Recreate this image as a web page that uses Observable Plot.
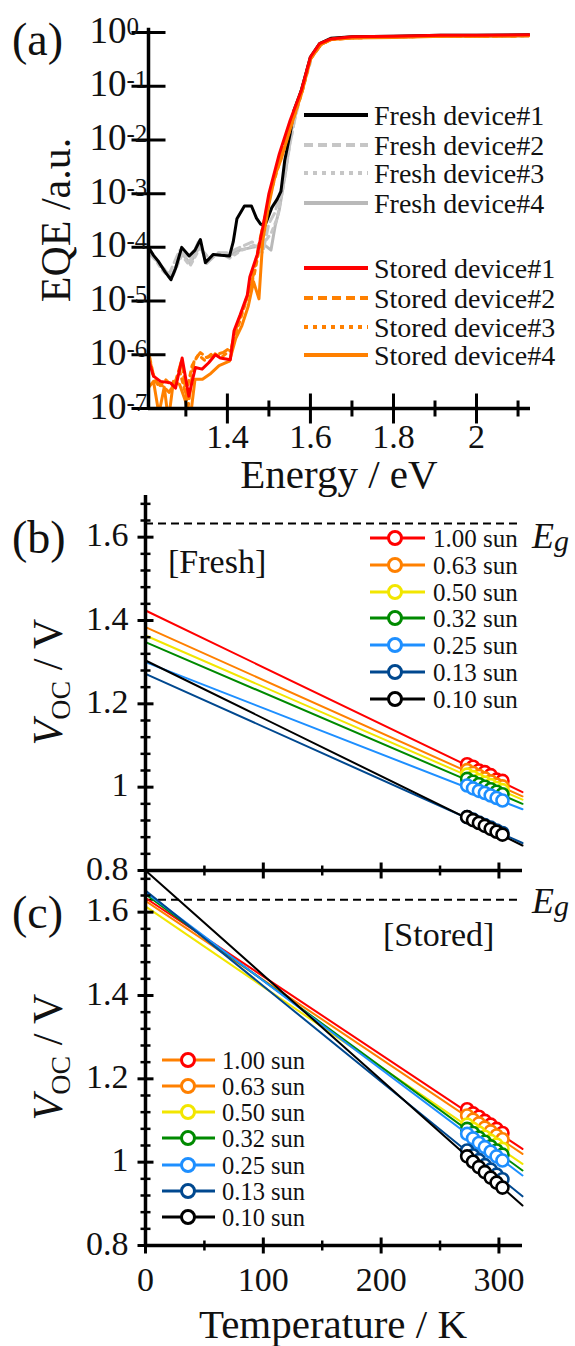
<!DOCTYPE html>
<html><head><meta charset="utf-8">
<script src="https://cdn.jsdelivr.net/npm/d3@7"></script>
<script src="https://cdn.jsdelivr.net/npm/@observablehq/plot@0.6"></script>
<style>
html,body{margin:0;padding:0;background:#fff;}
#wrap{position:relative;width:575px;height:1346px;overflow:hidden;background:#fff;}
#wrap svg{position:absolute;left:0;overflow:visible;}
#wrap svg, #wrap svg text, #wrap svg tspan{font-family:"Liberation Serif","DejaVu Serif","Times New Roman",Times,serif !important;}
</style></head>
<body><div id="wrap"></div>
<script>
// ================= DATA: panel (a) EQE spectra =================
const freshE1 = [1.21,1.222,1.233,1.25,1.264,1.275,1.29,1.308,1.322,1.335,1.347,1.366,1.385,1.405,1.414,1.423,1.441,1.458,1.47,1.48,1.49,1.507,1.52,1.529,1.538,1.551,1.56,1.578,1.60,1.622,1.649,1.70,1.80,1.914,2.0,2.126];
const freshQ1 = [1.0e-4,7.1e-5,5.6e-5,3.5e-5,2.5e-5,4.0e-5,1.0e-4,6.9e-5,8.9e-5,1.4e-4,5.2e-5,7.4e-5,7.1e-5,6.9e-5,1.26e-4,3.4e-4,5.9e-4,5.9e-4,3.5e-4,2.7e-4,2.5e-4,5.5e-4,7.9e-4,1.1e-3,4.1e-3,1.3e-2,3.5e-2,8.3e-2,0.35,0.62,0.78,0.83,0.85,0.89,0.89,0.91];
const freshE2 = [1.21,1.235,1.26,1.285,1.31,1.33,1.35,1.375,1.40,1.43,1.46,1.485,1.50,1.515,1.53,1.545,1.56,1.58,1.60,1.625,1.65,1.70,1.80,1.92,2.0,2.126];
const freshQ2 = [7.9e-5,5.0e-5,3.2e-5,8.9e-5,5.6e-5,1.26e-4,5.6e-5,7.9e-5,7.9e-5,1.0e-4,1.26e-4,7.9e-5,2.8e-4,4.5e-4,1.26e-3,5.0e-3,2.0e-2,8.9e-2,0.34,0.6,0.76,0.81,0.83,0.85,0.85,0.87];
const freshE3 = [1.21,1.24,1.265,1.29,1.31,1.335,1.355,1.38,1.405,1.435,1.465,1.49,1.505,1.52,1.535,1.55,1.565,1.585,1.605,1.625,1.65,1.70,1.80,1.92,2.0,2.126];
const freshQ3 = [1.0e-4,4.0e-5,2.5e-5,7.1e-5,4.5e-5,1.0e-4,6.3e-5,7.9e-5,6.3e-5,8.9e-5,1.1e-4,1.26e-4,1.8e-4,3.5e-4,1.4e-3,7.9e-3,3.2e-2,0.11,0.38,0.6,0.76,0.81,0.83,0.85,0.85,0.87];
const freshE4 = [1.21,1.24,1.265,1.29,1.31,1.335,1.35,1.37,1.405,1.43,1.46,1.49,1.505,1.515,1.525,1.54,1.555,1.575,1.60,1.625,1.65,1.70,1.80,1.92,2.0,2.126];
const freshQ4 = [8.9e-5,4.5e-5,2.8e-5,7.9e-5,5.0e-5,1.1e-4,5.0e-5,7.1e-5,7.1e-5,8.9e-5,1.0e-4,1.1e-4,8.9e-5,2.5e-4,5.0e-4,2.5e-3,1.6e-2,7.1e-2,0.32,0.6,0.76,0.81,0.83,0.85,0.85,0.87];
const storedE1 = [1.211,1.222,1.239,1.263,1.275,1.291,1.307,1.323,1.339,1.355,1.371,1.383,1.407,1.416,1.431,1.448,1.454,1.472,1.485,1.50,1.525,1.551,1.578,1.60,1.622,1.649,1.70,1.80,1.914,2.0,2.126];
const storedQ1 = [7.6e-7,4.0e-7,3.2e-7,3.0e-7,2.4e-7,8.7e-7,1.7e-7,5.8e-7,5.4e-7,7.1e-7,1.0e-6,8.7e-7,8.1e-7,2.8e-6,5.6e-6,1.3e-5,2.8e-5,7.4e-5,2.3e-4,1.0e-3,5.5e-3,2.3e-2,8.3e-2,0.35,0.62,0.76,0.83,0.85,0.89,0.89,0.91];
const storedE2 = [1.211,1.225,1.24,1.26,1.275,1.29,1.305,1.32,1.335,1.35,1.37,1.39,1.41,1.425,1.44,1.46,1.48,1.50,1.525,1.55,1.578,1.60,1.625,1.65,1.70,1.80,1.92,2.0,2.126];
const storedQ2 = [1.05e-6,3.2e-7,2.8e-7,2.0e-7,3.2e-7,7.9e-7,1.0e-7,7.9e-7,1.1e-6,8.9e-7,1.0e-6,1.1e-6,1.4e-6,4.0e-6,7.9e-6,2.5e-5,1.6e-4,7.9e-4,4.5e-3,1.8e-2,7.6e-2,0.32,0.59,0.74,0.79,0.83,0.85,0.85,0.87];
const storedE3 = [1.211,1.22,1.235,1.25,1.27,1.285,1.30,1.315,1.33,1.345,1.365,1.385,1.41,1.425,1.445,1.465,1.485,1.505,1.53,1.555,1.58,1.60,1.625,1.65,1.70,1.80,1.92,2.0,2.126];
const storedQ3 = [1.0e-6,4.5e-7,2.5e-7,3.5e-7,2.5e-7,5.0e-7,1.8e-7,6.3e-7,1.0e-6,7.9e-7,1.1e-6,8.9e-7,1.26e-6,3.2e-6,1.0e-5,3.2e-5,2.0e-4,1.1e-3,5.0e-3,2.0e-2,7.9e-2,0.33,0.6,0.74,0.79,0.83,0.85,0.85,0.87];
const storedE4 = [1.211,1.222,1.235,1.248,1.258,1.270,1.285,1.300,1.310,1.322,1.340,1.360,1.380,1.405,1.420,1.435,1.450,1.463,1.476,1.485,1.500,1.515,1.530,1.555,1.580,1.600,1.625,1.650,1.700,1.800,1.920,2.000,2.126];
const storedQ4 = [2.5e-7,3.2e-7,8e-8,2.5e-7,6e-8,3.2e-7,2.8e-7,1.3e-7,6e-8,3.5e-7,3.5e-7,4.5e-7,6.3e-7,7.6e-7,2.0e-6,3.5e-6,7.9e-6,2.3e-5,1.1e-5,1.3e-4,6.3e-4,2.2e-3,4.5e-3,2.0e-2,7.9e-2,0.32,0.6,0.74,0.79,0.81,0.85,0.85,0.87];

const legendA = ["Fresh device#1","Fresh device#2","Fresh device#3","Fresh device#4","Stored device#1","Stored device#2","Stored device#3","Stored device#4"];
const xMajorA = [1.4,1.6,1.8,2.0];
const xMajorLabelsA = ["1.4","1.6","1.8","2"];
const xMinorA = [1.3,1.5,1.7,1.9,2.1];
const yTicksA = [1,1e-1,1e-2,1e-3,1e-4,1e-5,1e-6,1e-7];
const yExpA = ["0","-1","-2","-3","-4","-5","-6","-7"];

// ================= DATA: panels (b), (c) Voc vs T =================
const sunLabels = ["1.00 sun","0.63 sun","0.50 sun","0.32 sun","0.25 sun","0.13 sun","0.10 sun"];
const sunColors = ["#ff0000","#ff8000","#f2e600","#008a00","#1e8fff","#00488f","#000000"];
const tempK = [273,278,283,288,293,298,303];
const fitT = [0,320];
// Fresh
const fitStartB = [1.424,1.384,1.364,1.348,1.300,1.272,1.304];
const fitEndB   = [0.988,0.978,0.970,0.960,0.947,0.866,0.860];
const vocB = [
  [1.055,1.049,1.040,1.036,1.029,1.018,1.015],
  [1.041,1.034,1.027,1.021,1.014,1.006,1.002],
  [1.030,1.024,1.017,1.011,1.005,0.998,0.993],
  [1.020,1.013,1.007,1.001,0.995,0.989,0.983],
  [1.004,0.997,0.991,0.986,0.980,0.974,0.968],
  [0.928,0.922,0.915,0.909,0.903,0.896,0.890],
  [0.928,0.921,0.914,0.907,0.900,0.893,0.886]
];
// Stored
const fitStartC = [1.634,1.627,1.614,1.643,1.648,1.652,1.700];
const fitEndC   = [1.032,1.020,0.996,0.980,0.968,0.918,0.896];
const vocC = [
  [1.127,1.117,1.109,1.099,1.090,1.080,1.070],
  [1.112,1.102,1.093,1.083,1.074,1.064,1.055],
  [1.090,1.080,1.071,1.061,1.051,1.042,1.032],
  [1.080,1.070,1.059,1.049,1.038,1.028,1.018],
  [1.068,1.057,1.046,1.036,1.025,1.014,1.004],
  [1.028,1.016,1.005,0.993,0.982,0.970,0.959],
  [1.014,1.001,0.988,0.976,0.963,0.951,0.939]
];
const egValue = [1.633];
const egValueC = [1.630];
const yMajorV = [0.8,1.0,1.2,1.4,1.6];
const yMajorLabelsV = ["0.8","1","1.2","1.4","1.6"];
const yMinorV = [0.84,0.88,0.92,0.96,1.04,1.08,1.12,1.16,1.24,1.28,1.32,1.36,1.44,1.48,1.52,1.56,1.64,1.68];
const xMajorT = [0,100,200,300];
const xMajorLabelsT = ["0","100","200","300"];
const xMinorT = [50,150,250];

// ================= helpers =================
const serif = "Liberation Serif";
const vtick = len => ({draw(ctx){ctx.moveTo(0,-len);ctx.lineTo(0,len);}});
const htick = len => ({draw(ctx){ctx.moveTo(-len,0);ctx.lineTo(len,0);}});
const wrap = document.getElementById("wrap");
function place(svg, top){ svg.style.top = top + "px"; wrap.appendChild(svg); }
const pts = (X, Y) => X.map((x,i) => ({x, y: Y[i]}));

// ================= panel (a) =================
const aSeries = [
  {E: freshE4, Q: freshQ4, stroke: "#b9b9b9", dash: null},
  {E: freshE3, Q: freshQ3, stroke: "#c6c6c6", dash: "4,5"},
  {E: freshE2, Q: freshQ2, stroke: "#c6c6c6", dash: "9,5"},
  {E: freshE1, Q: freshQ1, stroke: "#000000", dash: null},
  {E: storedE4, Q: storedQ4, stroke: "#ff8000", dash: null},
  {E: storedE3, Q: storedQ3, stroke: "#ff8000", dash: "4,5"},
  {E: storedE2, Q: storedQ2, stroke: "#ff8000", dash: "9,5"},
  {E: storedE1, Q: storedQ1, stroke: "#ff0000", dash: null}
];
const xMinA = 1.21, xMaxA = 2.13, yMinA = 1e-7;
const pa = Plot.plot({
  width: 575, height: 500,
  marginLeft: 148, marginRight: 45, marginTop: 32, marginBottom: 92,
  style: {fontFamily: serif, background: "none", overflow: "visible"},
  x: {domain: [xMinA, xMaxA], axis: null},
  y: {type: "log", domain: [yMinA, 1], axis: null},
  marks: [
    ...aSeries.map(s => Plot.line(pts(s.E, s.Q), {x: "x", y: "y", stroke: s.stroke, strokeWidth: 3, strokeDasharray: s.dash, clip: true, strokeLinejoin: "round"})),
    Plot.ruleX([xMinA], {y1: yMinA, y2: 1.2, stroke: "black", strokeWidth: 3.5}),
    Plot.ruleY([yMinA], {x1: xMinA, x2: xMaxA, stroke: "black", strokeWidth: 3.5}),
    Plot.dot(yTicksA, {x: xMinA, y: d => d, symbol: htick(17), stroke: "black", strokeWidth: 3, fill: "none"}),
    Plot.dot(xMajorA, {x: d => d, y: yMinA, symbol: vtick(15), stroke: "black", strokeWidth: 3, fill: "none"}),
    Plot.dot(xMinorA, {x: d => d, y: yMinA, symbol: vtick(8), stroke: "black", strokeWidth: 3, fill: "none"}),
    Plot.text(xMajorA, {x: d => d, y: yMinA, text: (d,i) => xMajorLabelsA[i], dy: 39, lineAnchor: "bottom", fontSize: 34, fontFamily: serif, fill: "#111"}),
    Plot.text(yTicksA, {x: xMinA, y: d => d, text: () => "10", dx: -22, dy: 10, textAnchor: "end", lineAnchor: "bottom", fontSize: 37, fontFamily: serif, fill: "#111"}),
    Plot.text(yTicksA, {x: xMinA, y: d => d, text: (d,i) => yExpA[i], dx: -22, dy: 2, textAnchor: "start", lineAnchor: "bottom", fontSize: 25, fontFamily: serif, fill: "#111"})
  ]
});
place(pa, 0);

// ================= panels (b) and (c) =================
function vocPanel(fitStart, fitEnd, voc, eg, height, mTop, mBottom, showX) {
  const marks = [];
  marks.push(Plot.ruleY(eg, {x1: 0, x2: 320, stroke: "black", strokeWidth: 2, strokeDasharray: "8,5"}));
  sunLabels.forEach((lab, i) => {
    marks.push(Plot.line(pts(fitT, [fitStart[i], fitEnd[i]]), {x: "x", y: "y", stroke: sunColors[i], strokeWidth: 2}));
    marks.push(Plot.dot(pts(tempK, voc[i]), {x: "x", y: "y", r: 6, stroke: sunColors[i], strokeWidth: 2.6, fill: "white"}));
  });
  marks.push(
    Plot.ruleX([0], {y1: 0.8, y2: 1.7, stroke: "black", strokeWidth: 3.5}),
    Plot.ruleY([0.8], {x1: 0, x2: 320, stroke: "black", strokeWidth: 3.5}),
    Plot.dot(yMajorV, {x: 0, y: d => d, symbol: htick(8), stroke: "black", strokeWidth: 3, fill: "none"}),
    Plot.dot(yMinorV, {x: 0, y: d => d, symbol: htick(5), stroke: "black", strokeWidth: 2.5, fill: "none"}),
    Plot.dot(xMajorT, {x: d => d, y: 0.8, symbol: vtick(8), stroke: "black", strokeWidth: 3, fill: "none"}),
    Plot.dot(xMinorT, {x: d => d, y: 0.8, symbol: vtick(5), stroke: "black", strokeWidth: 2.5, fill: "none"}),
    Plot.text(yMajorV, {x: 0, y: d => d, text: (d,i) => yMajorLabelsV[i], dx: -17, dy: 9, textAnchor: "end", lineAnchor: "bottom", fontSize: 34, fontFamily: serif, fill: "#111"})
  );
  if (showX) marks.push(Plot.text(xMajorT, {x: d => d, y: 0.8, text: (d,i) => xMajorLabelsT[i], dy: 45, lineAnchor: "bottom", fontSize: 34, fontFamily: serif, fill: "#111"}));
  return Plot.plot({
    width: 575, height,
    marginLeft: 145, marginRight: 53, marginTop: mTop, marginBottom: mBottom,
    style: {fontFamily: serif, background: "none", overflow: "visible"},
    x: {domain: [0, 320], axis: null},
    y: {domain: [0.8, 1.7], axis: null},
    marks
  });
}
place(vocPanel(fitStartB, fitEndB, vocB, egValue, 420, 35, 10, false), 460);
place(vocPanel(fitStartC, fitEndC, vocC, egValueC, 506, 30, 101, true), 840);

// ================= annotations overlay =================
const ov = d3.select(wrap).append("svg").attr("width", 575).attr("height", 1346)
  .style("top", "0px").attr("font-family", serif);
function txt(x, y, s, size, anchor = "start") {
  return ov.append("text").attr("x", x).attr("y", y).attr("font-size", size)
    .attr("font-family", serif).attr("text-anchor", anchor).attr("fill", "#111").text(s);
}
function rowsText(x, ys, labels, size) {
  const t = ov.append("text").attr("font-size", size).attr("font-family", serif).attr("fill", "#111");
  labels.forEach((lab, i) => t.append("tspan").attr("x", x).attr("y", ys[i]).text(lab));
  return t;
}
txt(12, 55, "(a)", 46);
txt(12, 553, "(b)", 46);
txt(12, 928, "(c)", 46);
txt(339, 488, "Energy / eV", 41, "middle");
txt(333, 1338, "Temperature / K", 41, "middle");
ov.append("text").attr("transform", "translate(70,220) rotate(-90)").attr("text-anchor", "middle")
  .attr("font-size", 42).attr("font-family", serif).attr("fill", "#111").text("EQE /a.u.");
[682, 1057].forEach(cy => {
  const t = ov.append("text").attr("transform", `translate(62,${cy}) rotate(-90)`).attr("text-anchor", "middle")
    .attr("font-size", 42).attr("font-family", serif).attr("fill", "#111");
  t.append("tspan").attr("font-style", "italic").text("V");
  t.append("tspan").attr("font-size", 28).attr("dy", 8).text("OC");
  t.append("tspan").attr("dy", -8).text(" / V");
});
// E_g labels
[548, 913].forEach(by => {
  const t = ov.append("text").attr("x", 532).attr("y", by).attr("fill", "#111")
    .attr("font-family", serif).attr("font-style", "italic");
  t.append("tspan").attr("font-size", 36).text("E");
  t.append("tspan").attr("font-size", 30).attr("dy", 3).text("g");
});
txt(168, 573, "[Fresh]", 34);
txt(383, 946, "[Stored]", 34);

// legend (a)
const legAY = [115, 145, 173, 203, 268, 298, 327, 355];
const legAStyle = [
  ["#000000", null], ["#c6c6c6", "9,5"], ["#c6c6c6", "4,5"], ["#b9b9b9", null],
  ["#ff0000", null], ["#ff8000", "9,5"], ["#ff8000", "4,5"], ["#ff8000", null]
];
legendA.forEach((lab, i) => {
  const y = legAY[i];
  const l = ov.append("line").attr("x1", 304).attr("x2", 368).attr("y1", y).attr("y2", y)
    .attr("stroke", legAStyle[i][0]).attr("stroke-width", 4);
  if (legAStyle[i][1]) l.attr("stroke-dasharray", legAStyle[i][1]);
});
rowsText(374, legAY.slice(0, 4).map(y => y + 10), legendA.slice(0, 4), 28);
rowsText(374, legAY.slice(4).map(y => y + 10), legendA.slice(4), 28);

// legends (b), (c)
function sunLegend(x1, x2, cx, tx, rows, lineColors, size) {
  sunLabels.forEach((lab, i) => {
    const y = rows[i];
    ov.append("line").attr("x1", x1).attr("x2", x2).attr("y1", y).attr("y2", y)
      .attr("stroke", lineColors[i]).attr("stroke-width", 3);
    ov.append("circle").attr("cx", cx).attr("cy", y).attr("r", 6.5)
      .attr("fill", "white").attr("stroke", sunColors[i]).attr("stroke-width", 3);
  });
  rowsText(tx, rows.map(y => y + 9), sunLabels, size);
}
sunLegend(370, 425, 395, 433, [538, 565, 592, 618, 645, 672, 699], sunColors, 25);
sunLegend(162, 215, 188, 222, [1060, 1086, 1112, 1138, 1165, 1191, 1217], ["#ff8000"].concat(sunColors.slice(1)), 24.5);
</script>
</body></html>
